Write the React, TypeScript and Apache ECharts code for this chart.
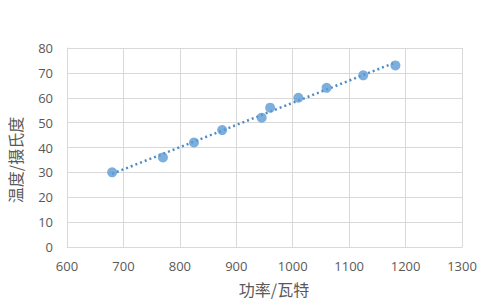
import React, { useEffect, useRef } from "react";
import * as echarts from "echarts";

const powerWatts = [680, 770, 825, 875, 945, 960, 1010, 1060, 1125, 1182];
const tempCelsius = [30, 36, 42, 47, 52, 56, 60, 64, 69, 73];
const xTicks = { min: 600, max: 1300, interval: 100 };
const yTicks = { min: 0, max: 80, interval: 10 };
const xTitle = "功率/瓦特";
const yTitle = "温度/摄氏度";

function trendEnds(xs: number[], ys: number[]) {
  const n = xs.length;
  const mx = xs.reduce((a, b) => a + b, 0) / n;
  const my = ys.reduce((a, b) => a + b, 0) / n;
  let sxy = 0;
  let sxx = 0;
  for (let i = 0; i < n; i++) {
    sxy += (xs[i] - mx) * (ys[i] - my);
    sxx += (xs[i] - mx) * (xs[i] - mx);
  }
  const k = sxy / sxx;
  const b = my - k * mx;
  const x0 = Math.min(...xs);
  const x1 = Math.max(...xs);
  return [
    [x0, k * x0 + b],
    [x1, k * x1 + b],
  ];
}

export default function App() {
  const ref = useRef<HTMLDivElement>(null);
  useEffect(() => {
    if (!ref.current) return;
    const chart = echarts.init(ref.current, undefined, { renderer: "svg" });
    const font = "'Noto Sans CJK SC', 'Open Sans', sans-serif";
    const numFont = "'Open Sans', 'Noto Sans', sans-serif";
    chart.setOption({
      animation: false,
      backgroundColor: "#ffffff",
      grid: { left: 67, right: 38, top: 48, bottom: 53 },
      graphic: [
        {
          type: "text",
          x: 15,
          y: 160,
          rotation: Math.PI / 2,
          style: {
            text: yTitle,
            fontSize: 16,
            fill: "#595959",
            fontFamily: font,
            align: "center",
            verticalAlign: "middle",
          },
        },
        {
          type: "text",
          x: 274,
          y: 289,
          style: {
            text: xTitle,
            fontSize: 16,
            fill: "#595959",
            fontFamily: font,
            align: "center",
            verticalAlign: "middle",
          },
        },
      ],
      xAxis: {
        type: "value",
        min: xTicks.min,
        max: xTicks.max,
        interval: xTicks.interval,
        axisLine: { show: true, lineStyle: { color: "#d9d9d9" } },
        axisTick: { show: false },
        axisLabel: {
          fontSize: 13,
          color: "#595959",
          margin: 12,
          fontFamily: numFont,
          formatter: (v: number) => String(v),
        },
        splitLine: { show: true, lineStyle: { color: "#d9d9d9", width: 1 } },
      },
      yAxis: {
        type: "value",
        min: yTicks.min,
        max: yTicks.max,
        interval: yTicks.interval,
        axisLine: { show: true, lineStyle: { color: "#d9d9d9" } },
        axisTick: { show: false },
        axisLabel: {
          fontSize: 13,
          color: "#595959",
          margin: 14,
          fontFamily: numFont,
          formatter: (v: number) => String(v),
        },
        splitLine: { show: true, lineStyle: { color: "#d9d9d9", width: 1 } },
      },
      series: [
        {
          type: "line",
          data: trendEnds(powerWatts, tempCelsius),
          symbol: "none",
          lineStyle: { color: "#4f8cc7", width: 2.5, type: [2, 3] },
          silent: true,
          z: 1,
        },
        {
          type: "scatter",
          data: powerWatts.map((x, i) => [x, tempCelsius[i]]),
          symbol: "circle",
          symbolSize: 10,
          itemStyle: { color: "#5b9bd5" },
          z: 2,
        },
      ],
    });
    return () => chart.dispose();
  }, []);
  return (
    <div
      ref={ref}
      style={{ position: "fixed", left: 0, top: 0, width: 500, height: 300 }}
    />
  );
}
